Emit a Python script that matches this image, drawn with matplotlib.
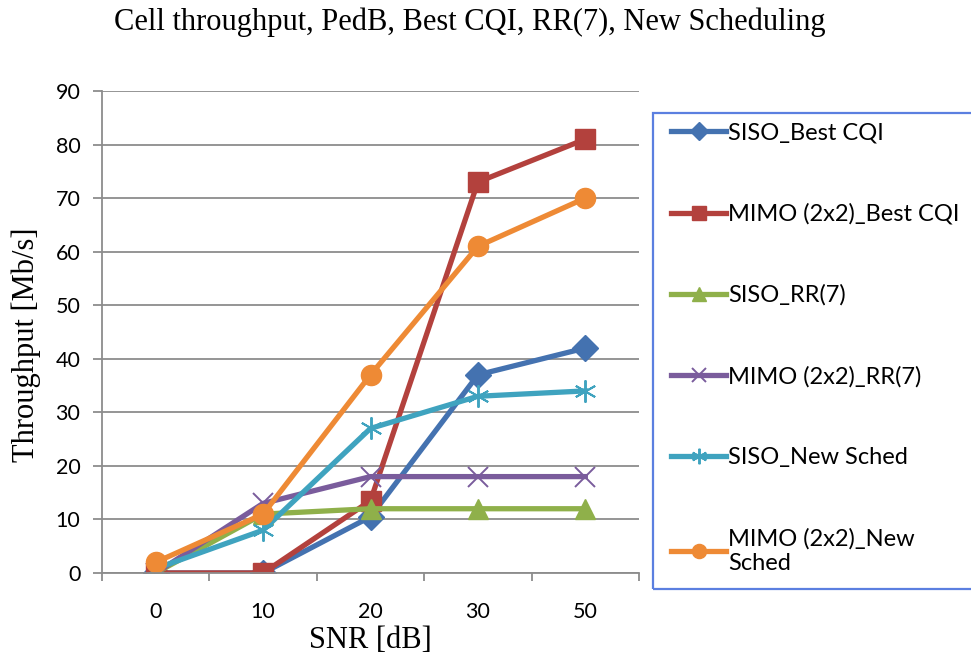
import matplotlib.pyplot as plt
from matplotlib.patches import Rectangle

snr_labels = ['0', '10', '20', '30', '50']

siso_best_cqi = [0, 0, 10.5, 37, 42]
mimo_best_cqi = [0, 0, 13.5, 73, 81]
siso_rr7 = [0, 11, 12, 12, 12]
mimo_rr7 = [0, 13, 18, 18, 18]
siso_new_sched = [0.8, 8, 27, 33, 34]
mimo_new_sched = [2, 11, 37, 61, 70]

series_names = ['SISO_Best CQI', 'MIMO (2x2)_Best CQI', 'SISO_RR(7)',
                'MIMO (2x2)_RR(7)', 'SISO_New Sched', 'MIMO (2x2)_New\nSched']

fig = plt.figure(figsize=(9.71, 6.6), dpi=100)
ax = fig.add_axes([102 / 971, 1 - 573 / 660, 537 / 971, 482 / 660])

x = list(range(len(snr_labels)))
lw = 3.8
# (values, color, marker, size)
styles = [
    (siso_best_cqi, '#4472B0', 'D', 13),
    (mimo_best_cqi, '#B3413D', 's', 14.5),
    (siso_rr7, '#8FB04A', '^', 14),
    (mimo_rr7, '#7A5C9C', 'x', 15),
    (siso_new_sched, '#3FA3BF', (6, 2, 0), 16),
    (mimo_new_sched, '#EE8A35', 'o', 14.5),
]
handles = []
for (vals, col, mk, ms), name in zip(styles, series_names):
    thin = mk in ('x', (6, 2, 0))
    h, = ax.plot(x, vals, color=col, lw=lw, marker=mk, ms=ms,
                 mew=1.4 if thin else 1, mec=col, mfc=col, label=name,
                 solid_joinstyle='round')
    handles.append(h)

ax.set_xlim(-0.5, 4.5)
ax.set_ylim(0, 90)
ax.set_yticks(range(0, 91, 10))
ax.set_xticks(x)
ax.set_xticklabels(snr_labels)
ax.set_xticks([i - 0.5 for i in range(6)], minor=True)
ax.tick_params(axis='x', which='major', length=0, pad=21)
ax.tick_params(axis='x', which='minor', length=6, color='#8c8c8c', width=1.3)
ax.tick_params(axis='y', length=6.5, color='#8c8c8c', width=1.3, pad=9)
for lab in ax.get_xticklabels() + ax.get_yticklabels():
    lab.set_fontfamily('Lato')
    lab.set_fontsize(15.5)

ax.grid(axis='y', color='#8c8c8c', lw=1.3)
ax.set_axisbelow(True)
for s in ('top', 'right'):
    ax.spines[s].set_visible(False)
for s in ('left', 'bottom'):
    ax.spines[s].set_color('#8c8c8c')
    ax.spines[s].set_linewidth(1.3)

ax.set_xlabel('SNR [dB]', fontfamily='Liberation Serif', fontsize=22, labelpad=3)
ax.set_ylabel('Throughput [Mb/s]', fontfamily='Liberation Serif', fontsize=22)
ax.yaxis.set_label_coords(-0.113, 0.473)
fig.text(470 / 971, 1 - 22 / 660, 'Cell throughput, PedB, Best CQI, RR(7), New Scheduling',
         fontfamily='Liberation Serif', fontsize=22, ha='center', va='center')

# legend box
fig.patches.append(Rectangle((653 / 971, 1 - 589 / 660), 330 / 971, 476 / 660,
                             transform=fig.transFigure, fill=False,
                             edgecolor='#5b7fe0', lw=1.6))
leg = fig.legend(handles=handles, loc='upper left',
                 bbox_to_anchor=(662 / 971, 1 - 113 / 660), frameon=False,
                 borderaxespad=0, borderpad=0.4,
                 prop={'family': 'Lato', 'size': 17}, labelspacing=2.53,
                 handlelength=2.3, handletextpad=0.1, markerscale=0.7)

fig.savefig('out.png', dpi=100)
